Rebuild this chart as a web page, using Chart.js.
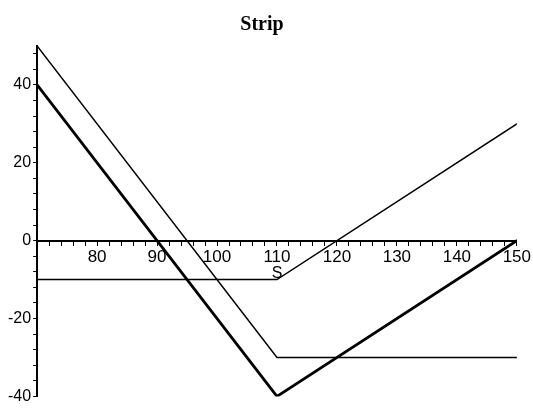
<!DOCTYPE html>
<html>
<head>
<meta charset="utf-8">
<script src="https://cdn.jsdelivr.net/npm/chart.js@4.4.1/dist/chart.umd.min.js"></script>
<style>
  body { margin: 0; background: #ffffff; }
  canvas { display: block; }
</style>
</head>
<body>
<canvas id="grafStrip" width="533" height="408"></canvas>
<script>
const grafStrip = document.getElementById('grafStrip')

// preço do ativo S nos pontos de quebra
const precoS = [70, 110, 150]
// payoff das 2 puts, da call e do strip (soma)
const payoffPuts = [50, -30, -30]
const payoffCall = [-10, -10, 30]
const payoffStrip = [40, -40, 0]

const pontos = (vals) => precoS.map((s, i) => ({ x: s, y: vals[i] }))

Chart.defaults.color = '#000000'
Chart.defaults.font.family = '"Liberation Sans", Arial, sans-serif'
Chart.defaults.font.size = 16

new Chart(grafStrip, {
    type: 'line',
    data: {
        datasets: [
            { data: pontos(payoffPuts), borderColor: '#000', borderWidth: 1.5 },
            { data: pontos(payoffCall), borderColor: '#000', borderWidth: 1.5 },
            { data: pontos(payoffStrip), borderColor: '#000', borderWidth: 2.8 }
        ]
    },
    options: {
        responsive: false,
        animation: false,
        events: [],
        elements: {
            point: { radius: 0 },
            line: { tension: 0, borderCapStyle: 'round' }
        },
        layout: {
            padding: { left: 6, right: 15, top: 0, bottom: 11 }
        },
        scales: {
            x: {
                type: 'linear',
                min: 70,
                max: 150,
                position: { y: 0 },
                border: { color: '#000', width: 2 },
                grid: { drawOnChartArea: false, tickLength: 4, tickColor: '#000' },
                ticks: {
                    stepSize: 2,
                    autoSkip: false,
                    maxRotation: 0,
                    padding: 2,
                    font: { size: 17 },
                    callback: (v) => (v % 10 === 0 && v !== 70) ? String(v) : ''
                },
                title: {
                    display: true,
                    text: 'S',
                    font: { size: 16 },
                    padding: { top: -5, bottom: 0 }
                }
            },
            y: {
                type: 'linear',
                min: -40,
                max: 50,
                position: 'left',
                border: { color: '#000', width: 2 },
                grid: { drawOnChartArea: false, tickLength: 4, tickColor: '#000' },
                ticks: {
                    stepSize: 4,
                    autoSkip: false,
                    includeBounds: false,
                    padding: 2,
                    callback: (v) => (v % 20 === 0) ? String(v) : ''
                }
            }
        },
        plugins: {
            legend: { display: false },
            tooltip: { enabled: false },
            title: {
                display: true,
                text: 'Strip',
                font: { family: '"Liberation Serif", "Times New Roman", serif', size: 20, weight: 'bold' },
                padding: { top: 13, bottom: 9 }
            }
        }
    }
})
</script>
</body>
</html>
